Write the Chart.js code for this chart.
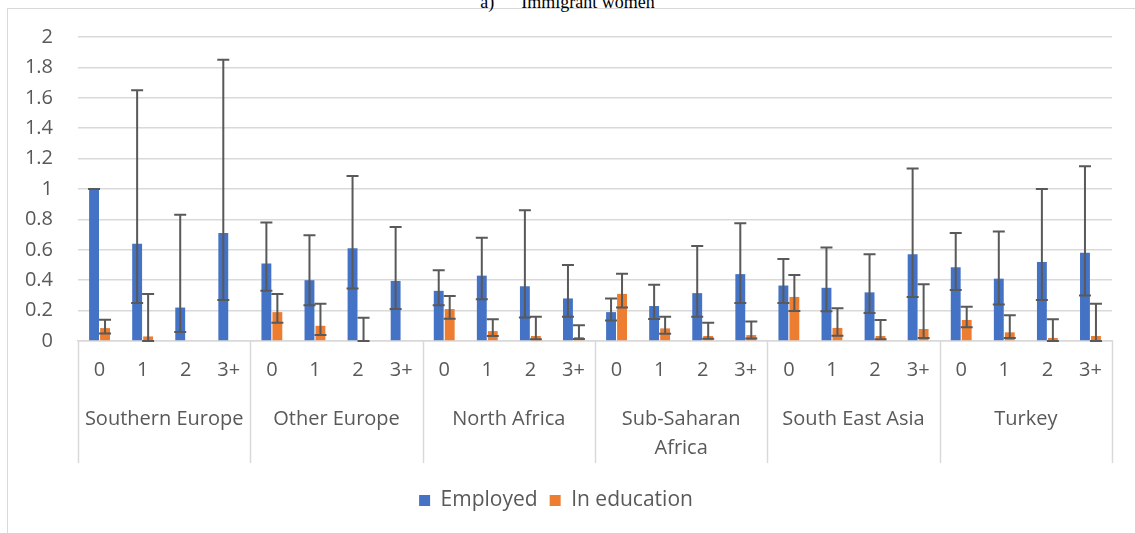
<!DOCTYPE html>
<html>
<head>
<meta charset="utf-8">
<script src="https://cdn.jsdelivr.net/npm/chart.js@4.4.1/dist/chart.umd.min.js"></script>
<style>
  html, body { margin: 0; padding: 0; background: #fff; overflow: hidden; }
  #wrap { position: relative; width: 1135px; height: 533px; }
  #frame { position: absolute; left: 7px; top: 8px; width: 1140px; height: 540px;
           border-left: 1.5px solid #d9d9d9; border-top: 1.5px solid #d9d9d9; box-sizing: border-box; }
  #title { position: absolute; left: 0; width: 1135px; top: -8px; text-align: center;
           font-family: "Liberation Serif", serif; font-size: 18px; color: #000; white-space: pre; }
  canvas { position: absolute; left: 0; top: 0; }
</style>
</head>
<body>
<div id="wrap">
  <div id="frame"></div>
  <div id="title">a)      Immigrant women</div>
  <canvas id="c" width="1135" height="533"></canvas>
</div>
<script>
// ---- data ----
const groups = ["Southern Europe", "Other Europe", "North Africa", ["Sub-Saharan", "Africa"], "South East Asia", "Turkey"];
const children = ["0", "1", "2", "3+"];
const yTicks = [0, 0.2, 0.4, 0.6, 0.8, 1, 1.2, 1.4, 1.6, 1.8, 2];

const employed = [
  1.00, 0.64, 0.22, 0.71,
  0.51, 0.40, 0.61, 0.395,
  0.33, 0.43, 0.36, 0.28,
  0.19, 0.23, 0.315, 0.44,
  0.365, 0.35, 0.32, 0.57,
  0.485, 0.41, 0.52, 0.58
];
const employedLow = [
  1.00, 0.25, 0.06, 0.27,
  0.33, 0.235, 0.345, 0.21,
  0.235, 0.275, 0.155, 0.16,
  0.135, 0.145, 0.16, 0.25,
  0.25, 0.195, 0.185, 0.29,
  0.335, 0.24, 0.27, 0.30
];
const employedHigh = [
  1.00, 1.65, 0.83, 1.85,
  0.78, 0.695, 1.085, 0.75,
  0.465, 0.68, 0.86, 0.50,
  0.28, 0.37, 0.625, 0.775,
  0.54, 0.615, 0.57, 1.135,
  0.71, 0.72, 1.00, 1.15
];
const education = [
  0.085, 0.03, 0, 0,
  0.19, 0.10, 0, 0,
  0.21, 0.065, 0.033, 0.026,
  0.31, 0.083, 0.033, 0.039,
  0.29, 0.086, 0.033, 0.079,
  0.138, 0.057, 0.02, 0.033
];
const educationLow = [
  0.05, 0.0, null, null,
  0.12, 0.04, 0, null,
  0.147, 0.033, 0.011, 0.013,
  0.22, 0.048, 0.015, 0.017,
  0.197, 0.035, 0.011, 0.02,
  0.09, 0.02, 0, 0
];
const educationHigh = [
  0.14, 0.31, null, null,
  0.31, 0.245, 0.153, null,
  0.296, 0.143, 0.16, 0.103,
  0.443, 0.16, 0.12, 0.129,
  0.434, 0.215, 0.138, 0.373,
  0.226, 0.169, 0.143, 0.245
];

// ---- build categories ----
const labels = [];
groups.forEach(() => children.forEach(c => labels.push(c)));

const FONT = '"Open Sans", "Noto Sans", sans-serif';
const TXT = '#595959';
const GRID = '#d9d9d9';

const errorBarPlugin = {
  id: 'errorBars',
  afterDatasetsDraw(chart) {
    const ctx = chart.ctx;
    const y = chart.scales.y;
    const sets = [[employedLow, employedHigh], [educationLow, educationHigh]];
    ctx.save();
    ctx.strokeStyle = '#595959';
    ctx.lineWidth = 2;
    sets.forEach((pair, di) => {
      const meta = chart.getDatasetMeta(di);
      meta.data.forEach((bar, i) => {
        const lo = pair[0][i], hi = pair[1][i];
        if (lo == null || hi == null) return;
        const x = bar.x;
        const yl = y.getPixelForValue(lo), yh = y.getPixelForValue(hi);
        const cap = 6;
        ctx.beginPath();
        ctx.moveTo(x, yl); ctx.lineTo(x, yh);
        ctx.moveTo(x - cap, yh); ctx.lineTo(x + cap, yh);
        ctx.moveTo(x - cap, yl); ctx.lineTo(x + cap, yl);
        ctx.stroke();
      });
    });
    ctx.restore();
  }
};

const groupAxisPlugin = {
  id: 'groupAxis',
  afterDraw(chart) {
    const ctx = chart.ctx;
    const xs = chart.scales.x;
    const area = chart.chartArea;
    const n = children.length;
    const step = xs.getPixelForValue(1) - xs.getPixelForValue(0);
    ctx.save();
    ctx.strokeStyle = GRID;
    ctx.lineWidth = 1.5;
    for (let g = 0; g <= groups.length; g++) {
      const px = Math.round(xs.getPixelForValue(g * n) - step / 2) + 0.5;
      ctx.beginPath();
      ctx.moveTo(px, area.bottom);
      ctx.lineTo(px, area.bottom + 122);
      ctx.stroke();
    }
    ctx.fillStyle = TXT;
    ctx.font = '20px ' + FONT;
    ctx.textAlign = 'center';
    ctx.textBaseline = 'middle';
    groups.forEach((g, gi) => {
      const cx = (xs.getPixelForValue(gi * n) + xs.getPixelForValue(gi * n + n - 1)) / 2;
      const lines = Array.isArray(g) ? g : [g];
      lines.forEach((t, li) => ctx.fillText(t, cx, area.bottom + 78 + li * 29));
    });
    ctx.restore();
  }
};

new Chart(document.getElementById('c'), {
  type: 'bar',
  data: {
    labels: labels,
    datasets: [
      { label: 'Employed', data: employed, backgroundColor: '#4472C4',
        categoryPercentage: 0.51, barPercentage: 0.9 },
      { label: 'In education', data: education, backgroundColor: '#ED7D31',
        categoryPercentage: 0.51, barPercentage: 0.9 }
    ]
  },
  options: {
    responsive: false,
    animation: false,
    layout: { padding: { left: 0, right: 23, top: 29, bottom: 12 } },
    plugins: {
      legend: {
        position: 'bottom',
        labels: { boxWidth: 11, boxHeight: 11, color: TXT, font: { family: FONT, size: 21 }, padding: 12 }
      },
      tooltip: { enabled: false }
    },
    scales: {
      x: {
        grid: { display: false, drawTicks: false },
        border: { color: GRID, width: 1.5 },
        ticks: { color: TXT, font: { family: FONT, size: 20 }, padding: 17, maxRotation: 0, autoSkip: false },
        afterFit(s) { s.height = 137; }
      },
      y: {
        min: 0, max: 2,
        afterBuildTicks(s) { s.ticks = yTicks.map(v => ({ value: v })); },
        grid: { color: GRID, lineWidth: 1.5, drawTicks: false },
        border: { display: false },
        ticks: { color: TXT, font: { family: FONT, size: 20 }, padding: 25,
                 callback: v => String(Number(v.toFixed(1))) },
        afterFit(s) { s.width = 78; }
      }
    }
  },
  plugins: [errorBarPlugin, groupAxisPlugin]
});
</script>
</body>
</html>
